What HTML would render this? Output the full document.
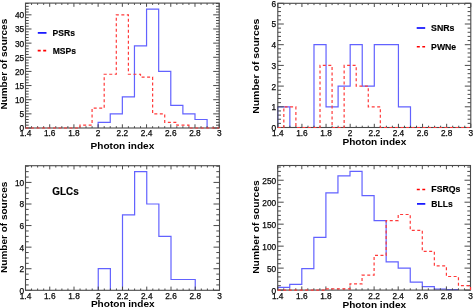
<!DOCTYPE html>
<html><head><meta charset="utf-8"><style>
html,body{margin:0;padding:0;background:#fff;width:473px;height:308px;overflow:hidden}
svg{display:block}
text{-webkit-font-smoothing:antialiased}
text{font-family:"Liberation Sans",sans-serif}
.l{font-size:8.3px;fill:#111;stroke:#000;stroke-width:0.25px}
.t{font-size:9.8px;font-weight:bold;fill:#000}
.g{font-weight:bold;fill:#000;stroke:#000;stroke-width:0.15px}
</style></head><body>
<svg width="473" height="308" viewBox="0 0 473 308" style="will-change:transform">
<rect width="473" height="308" fill="#fff"/>
<path d="M98.14 128 L98.14 122.34 L110.24 122.34 L110.24 113.86 L122.35 113.86 L122.35 96.88 L134.46 96.88 L134.46 45.96 L146.56 45.96 L146.56 9.18 L158.67 9.18 L158.67 71.42 L170.78 71.42 L170.78 105.37 L182.88 105.37 L182.88 113.86 L194.99 113.86 L194.99 119.51 L207.09 119.51 L207.09 128" stroke="#6262ff" stroke-width="1.2" fill="none"/>
<path d="M25.5 128v-3.7M25.5 3.1v3.7M31.55 128v-1.8M31.55 3.1v1.8M37.61 128v-1.8M37.61 3.1v1.8M43.66 128v-1.8M43.66 3.1v1.8M49.71 128v-3.7M49.71 3.1v3.7M55.77 128v-1.8M55.77 3.1v1.8M61.82 128v-1.8M61.82 3.1v1.8M67.87 128v-1.8M67.87 3.1v1.8M73.92 128v-3.7M73.92 3.1v3.7M79.98 128v-1.8M79.98 3.1v1.8M86.03 128v-1.8M86.03 3.1v1.8M92.08 128v-1.8M92.08 3.1v1.8M98.14 128v-3.7M98.14 3.1v3.7M104.19 128v-1.8M104.19 3.1v1.8M110.24 128v-1.8M110.24 3.1v1.8M116.3 128v-1.8M116.3 3.1v1.8M122.35 128v-3.7M122.35 3.1v3.7M128.4 128v-1.8M128.4 3.1v1.8M134.46 128v-1.8M134.46 3.1v1.8M140.51 128v-1.8M140.51 3.1v1.8M146.56 128v-3.7M146.56 3.1v3.7M152.62 128v-1.8M152.62 3.1v1.8M158.67 128v-1.8M158.67 3.1v1.8M164.72 128v-1.8M164.72 3.1v1.8M170.78 128v-3.7M170.78 3.1v3.7M176.83 128v-1.8M176.83 3.1v1.8M182.88 128v-1.8M182.88 3.1v1.8M188.93 128v-1.8M188.93 3.1v1.8M194.99 128v-3.7M194.99 3.1v3.7M201.04 128v-1.8M201.04 3.1v1.8M207.09 128v-1.8M207.09 3.1v1.8M213.15 128v-1.8M213.15 3.1v1.8M219.2 128v-3.7M219.2 3.1v3.7M25.5 128h6M219.2 128h-6M25.5 125.17h3.2M219.2 125.17h-3.2M25.5 122.34h3.2M219.2 122.34h-3.2M25.5 119.51h3.2M219.2 119.51h-3.2M25.5 116.68h3.2M219.2 116.68h-3.2M25.5 113.86h6M219.2 113.86h-6M25.5 111.03h3.2M219.2 111.03h-3.2M25.5 108.2h3.2M219.2 108.2h-3.2M25.5 105.37h3.2M219.2 105.37h-3.2M25.5 102.54h3.2M219.2 102.54h-3.2M25.5 99.71h6M219.2 99.71h-6M25.5 96.88h3.2M219.2 96.88h-3.2M25.5 94.05h3.2M219.2 94.05h-3.2M25.5 91.22h3.2M219.2 91.22h-3.2M25.5 88.39h3.2M219.2 88.39h-3.2M25.5 85.57h6M219.2 85.57h-6M25.5 82.74h3.2M219.2 82.74h-3.2M25.5 79.91h3.2M219.2 79.91h-3.2M25.5 77.08h3.2M219.2 77.08h-3.2M25.5 74.25h3.2M219.2 74.25h-3.2M25.5 71.42h6M219.2 71.42h-6M25.5 68.59h3.2M219.2 68.59h-3.2M25.5 65.76h3.2M219.2 65.76h-3.2M25.5 62.93h3.2M219.2 62.93h-3.2M25.5 60.1h3.2M219.2 60.1h-3.2M25.5 57.28h6M219.2 57.28h-6M25.5 54.45h3.2M219.2 54.45h-3.2M25.5 51.62h3.2M219.2 51.62h-3.2M25.5 48.79h3.2M219.2 48.79h-3.2M25.5 45.96h3.2M219.2 45.96h-3.2M25.5 43.13h6M219.2 43.13h-6M25.5 40.3h3.2M219.2 40.3h-3.2M25.5 37.47h3.2M219.2 37.47h-3.2M25.5 34.64h3.2M219.2 34.64h-3.2M25.5 31.81h3.2M219.2 31.81h-3.2M25.5 28.99h6M219.2 28.99h-6M25.5 26.16h3.2M219.2 26.16h-3.2M25.5 23.33h3.2M219.2 23.33h-3.2M25.5 20.5h3.2M219.2 20.5h-3.2M25.5 17.67h3.2M219.2 17.67h-3.2M25.5 14.84h6M219.2 14.84h-6M25.5 12.01h3.2M219.2 12.01h-3.2M25.5 9.18h3.2M219.2 9.18h-3.2M25.5 6.35h3.2M219.2 6.35h-3.2M25.5 3.52h3.2M219.2 3.52h-3.2" stroke="#4a4a4a" stroke-width="1.0" fill="none"/>
<rect x="25.5" y="3.1" width="193.7" height="124.9" fill="none" stroke="#4a4a4a" stroke-width="1.1"/>
<text x="25.5" y="136" class="l" text-anchor="middle">1.4</text>
<text x="49.71" y="136" class="l" text-anchor="middle">1.6</text>
<text x="73.92" y="136" class="l" text-anchor="middle">1.8</text>
<text x="98.14" y="136" class="l" text-anchor="middle">2</text>
<text x="122.35" y="136" class="l" text-anchor="middle">2.2</text>
<text x="146.56" y="136" class="l" text-anchor="middle">2.4</text>
<text x="170.78" y="136" class="l" text-anchor="middle">2.6</text>
<text x="194.99" y="136" class="l" text-anchor="middle">2.8</text>
<text x="219.2" y="136" class="l" text-anchor="middle">3</text>
<text x="24.2" y="131.4" class="l" text-anchor="end">0</text>
<text x="24.2" y="117.26" class="l" text-anchor="end">5</text>
<text x="24.2" y="103.11" class="l" text-anchor="end">10</text>
<text x="24.2" y="88.97" class="l" text-anchor="end">15</text>
<text x="24.2" y="74.82" class="l" text-anchor="end">20</text>
<text x="24.2" y="60.68" class="l" text-anchor="end">25</text>
<text x="24.2" y="46.53" class="l" text-anchor="end">30</text>
<text x="24.2" y="32.39" class="l" text-anchor="end">35</text>
<text x="24.2" y="18.24" class="l" text-anchor="end">40</text>
<path d="M25.5 128 L25.5 128 L31.55 128 L31.55 128 L43.66 128 L43.66 128 L55.77 128 L55.77 128 L67.87 128 L67.87 128 L79.98 128 L79.98 125.17 L92.08 125.17 L92.08 108.2 L104.19 108.2 L104.19 74.25 L116.3 74.25 L116.3 14.84 L128.4 14.84 L128.4 74.25 L140.51 74.25 L140.51 77.08 L152.62 77.08 L152.62 113.86 L164.72 113.86 L164.72 122.34 L176.83 122.34 L176.83 125.17 L188.93 125.17 L188.93 128 L201.04 128 L201.04 128 L213.15 128 L213.15 128 L219.2 128 L219.2 128" stroke="#ff3a3a" stroke-width="1.2" fill="none" stroke-dasharray="3 2.5"/>
<path d="M37.8 32.9H46.5" stroke="#0000ff" stroke-width="1.6" fill="none"/>
<path d="M37.7 50.6H46.2" stroke="#ff0000" stroke-width="1.6" fill="none" stroke-dasharray="3 2.5"/>
<text class="g" x="52.6" y="35.5" textLength="22.3" lengthAdjust="spacingAndGlyphs" style="font-size:9.2px">PSRs</text>
<text class="g" x="52.7" y="53.7" textLength="23.3" lengthAdjust="spacingAndGlyphs" style="font-size:9.2px">MSPs</text>
<text class="t" transform="translate(6.8 64.15) rotate(-90)" text-anchor="middle" textLength="90.7" lengthAdjust="spacingAndGlyphs">Number of sources</text>
<text class="t" x="90.6" y="148.6" textLength="63.7" lengthAdjust="spacingAndGlyphs">Photon index</text>
<path d="M277.8 127.5 L277.8 106.8 L289.86 106.8 L289.86 127.5 M301.93 127.5 M301.93 127.5 M313.99 127.5 L313.99 44.7 L326.05 44.7 L326.05 106.8 L338.11 106.8 L338.11 86.1 L350.18 86.1 L350.18 44.7 L362.24 44.7 L362.24 86.1 L374.3 86.1 L374.3 44.7 L386.36 44.7 L386.36 44.7 L398.43 44.7 L398.43 106.8 L410.49 106.8 L410.49 127.5" stroke="#6262ff" stroke-width="1.2" fill="none"/>
<path d="M277.8 127.5v-3.7M277.8 3.3v3.7M283.83 127.5v-1.8M283.83 3.3v1.8M289.86 127.5v-1.8M289.86 3.3v1.8M295.89 127.5v-1.8M295.89 3.3v1.8M301.93 127.5v-3.7M301.93 3.3v3.7M307.96 127.5v-1.8M307.96 3.3v1.8M313.99 127.5v-1.8M313.99 3.3v1.8M320.02 127.5v-1.8M320.02 3.3v1.8M326.05 127.5v-3.7M326.05 3.3v3.7M332.08 127.5v-1.8M332.08 3.3v1.8M338.11 127.5v-1.8M338.11 3.3v1.8M344.14 127.5v-1.8M344.14 3.3v1.8M350.18 127.5v-3.7M350.18 3.3v3.7M356.21 127.5v-1.8M356.21 3.3v1.8M362.24 127.5v-1.8M362.24 3.3v1.8M368.27 127.5v-1.8M368.27 3.3v1.8M374.3 127.5v-3.7M374.3 3.3v3.7M380.33 127.5v-1.8M380.33 3.3v1.8M386.36 127.5v-1.8M386.36 3.3v1.8M392.39 127.5v-1.8M392.39 3.3v1.8M398.43 127.5v-3.7M398.43 3.3v3.7M404.46 127.5v-1.8M404.46 3.3v1.8M410.49 127.5v-1.8M410.49 3.3v1.8M416.52 127.5v-1.8M416.52 3.3v1.8M422.55 127.5v-3.7M422.55 3.3v3.7M428.58 127.5v-1.8M428.58 3.3v1.8M434.61 127.5v-1.8M434.61 3.3v1.8M440.64 127.5v-1.8M440.64 3.3v1.8M446.67 127.5v-3.7M446.67 3.3v3.7M452.71 127.5v-1.8M452.71 3.3v1.8M458.74 127.5v-1.8M458.74 3.3v1.8M464.77 127.5v-1.8M464.77 3.3v1.8M470.8 127.5v-3.7M470.8 3.3v3.7M277.8 127.5h6M470.8 127.5h-6M277.8 123.36h3.2M470.8 123.36h-3.2M277.8 119.22h3.2M470.8 119.22h-3.2M277.8 115.08h3.2M470.8 115.08h-3.2M277.8 110.94h3.2M470.8 110.94h-3.2M277.8 106.8h6M470.8 106.8h-6M277.8 102.66h3.2M470.8 102.66h-3.2M277.8 98.52h3.2M470.8 98.52h-3.2M277.8 94.38h3.2M470.8 94.38h-3.2M277.8 90.24h3.2M470.8 90.24h-3.2M277.8 86.1h6M470.8 86.1h-6M277.8 81.96h3.2M470.8 81.96h-3.2M277.8 77.82h3.2M470.8 77.82h-3.2M277.8 73.68h3.2M470.8 73.68h-3.2M277.8 69.54h3.2M470.8 69.54h-3.2M277.8 65.4h6M470.8 65.4h-6M277.8 61.26h3.2M470.8 61.26h-3.2M277.8 57.12h3.2M470.8 57.12h-3.2M277.8 52.98h3.2M470.8 52.98h-3.2M277.8 48.84h3.2M470.8 48.84h-3.2M277.8 44.7h6M470.8 44.7h-6M277.8 40.56h3.2M470.8 40.56h-3.2M277.8 36.42h3.2M470.8 36.42h-3.2M277.8 32.28h3.2M470.8 32.28h-3.2M277.8 28.14h3.2M470.8 28.14h-3.2M277.8 24h6M470.8 24h-6M277.8 19.86h3.2M470.8 19.86h-3.2M277.8 15.72h3.2M470.8 15.72h-3.2M277.8 11.58h3.2M470.8 11.58h-3.2M277.8 7.44h3.2M470.8 7.44h-3.2M277.8 3.3h6M470.8 3.3h-6" stroke="#4a4a4a" stroke-width="1.0" fill="none"/>
<rect x="277.8" y="3.3" width="193" height="124.2" fill="none" stroke="#4a4a4a" stroke-width="1.1"/>
<text x="277.8" y="136" class="l" text-anchor="middle">1.4</text>
<text x="301.93" y="136" class="l" text-anchor="middle">1.6</text>
<text x="326.05" y="136" class="l" text-anchor="middle">1.8</text>
<text x="350.18" y="136" class="l" text-anchor="middle">2</text>
<text x="374.3" y="136" class="l" text-anchor="middle">2.2</text>
<text x="398.43" y="136" class="l" text-anchor="middle">2.4</text>
<text x="422.55" y="136" class="l" text-anchor="middle">2.6</text>
<text x="446.67" y="136" class="l" text-anchor="middle">2.8</text>
<text x="470.8" y="136" class="l" text-anchor="middle">3</text>
<text x="276.2" y="130.9" class="l" text-anchor="end">0</text>
<text x="276.2" y="110.2" class="l" text-anchor="end">1</text>
<text x="276.2" y="89.5" class="l" text-anchor="end">2</text>
<text x="276.2" y="68.8" class="l" text-anchor="end">3</text>
<text x="276.2" y="48.1" class="l" text-anchor="end">4</text>
<text x="276.2" y="27.4" class="l" text-anchor="end">5</text>
<text x="276.2" y="6.7" class="l" text-anchor="end">6</text>
<path d="M277.8 127.5 L277.8 127.5 L283.83 127.5 L283.83 106.8 L295.89 106.8 L295.89 127.5 L307.96 127.5 L307.96 127.5 L320.02 127.5 L320.02 65.4 L332.08 65.4 L332.08 127.5 L344.14 127.5 L344.14 65.4 L356.21 65.4 L356.21 86.1 L368.27 86.1 L368.27 106.8 L380.33 106.8 L380.33 127.5 L392.39 127.5 L392.39 127.5 L404.46 127.5 L404.46 127.5 L416.52 127.5 L416.52 127.5 L428.58 127.5 L428.58 127.5 L440.64 127.5 L440.64 127.5 L452.71 127.5 L452.71 127.5 L464.77 127.5 L464.77 127.5 L470.8 127.5 L470.8 127.5" stroke="#ff3a3a" stroke-width="1.2" fill="none" stroke-dasharray="3 2.5"/>
<path d="M416.7 28H425.2" stroke="#0000ff" stroke-width="1.6" fill="none"/>
<path d="M416.8 46.8H425.1" stroke="#ff0000" stroke-width="1.6" fill="none" stroke-dasharray="3 2.5"/>
<text class="g" x="431.1" y="31" textLength="23.4" lengthAdjust="spacingAndGlyphs" style="font-size:9.2px">SNRs</text>
<text class="g" x="431.1" y="50" textLength="25.1" lengthAdjust="spacingAndGlyphs" style="font-size:9.2px">PWNe</text>
<text class="t" transform="translate(259.4 66.25) rotate(-90)" text-anchor="middle" textLength="95.1" lengthAdjust="spacingAndGlyphs">Number of sources</text>
<text class="t" x="342.5" y="145" textLength="63.8" lengthAdjust="spacingAndGlyphs">Photon index</text>
<path d="M98.25 290.3 L98.25 268.72 L110.38 268.72 L110.38 290.3 M122.5 290.3 L122.5 214.78 L134.63 214.78 L134.62 171.63 L146.75 171.63 L146.75 204 L158.88 204 L158.88 236.36 L171 236.36 L171 279.51 L183.13 279.51 L183.13 279.51 L195.25 279.51 L195.25 290.3" stroke="#6262ff" stroke-width="1.2" fill="none"/>
<path d="M25.5 290.3v-3.7M25.5 165.7v3.7M31.56 290.3v-1.8M31.56 165.7v1.8M37.63 290.3v-1.8M37.63 165.7v1.8M43.69 290.3v-1.8M43.69 165.7v1.8M49.75 290.3v-3.7M49.75 165.7v3.7M55.81 290.3v-1.8M55.81 165.7v1.8M61.88 290.3v-1.8M61.88 165.7v1.8M67.94 290.3v-1.8M67.94 165.7v1.8M74 290.3v-3.7M74 165.7v3.7M80.06 290.3v-1.8M80.06 165.7v1.8M86.12 290.3v-1.8M86.12 165.7v1.8M92.19 290.3v-1.8M92.19 165.7v1.8M98.25 290.3v-3.7M98.25 165.7v3.7M104.31 290.3v-1.8M104.31 165.7v1.8M110.38 290.3v-1.8M110.38 165.7v1.8M116.44 290.3v-1.8M116.44 165.7v1.8M122.5 290.3v-3.7M122.5 165.7v3.7M128.56 290.3v-1.8M128.56 165.7v1.8M134.62 290.3v-1.8M134.62 165.7v1.8M140.69 290.3v-1.8M140.69 165.7v1.8M146.75 290.3v-3.7M146.75 165.7v3.7M152.81 290.3v-1.8M152.81 165.7v1.8M158.88 290.3v-1.8M158.88 165.7v1.8M164.94 290.3v-1.8M164.94 165.7v1.8M171 290.3v-3.7M171 165.7v3.7M177.06 290.3v-1.8M177.06 165.7v1.8M183.13 290.3v-1.8M183.13 165.7v1.8M189.19 290.3v-1.8M189.19 165.7v1.8M195.25 290.3v-3.7M195.25 165.7v3.7M201.31 290.3v-1.8M201.31 165.7v1.8M207.38 290.3v-1.8M207.38 165.7v1.8M213.44 290.3v-1.8M213.44 165.7v1.8M219.5 290.3v-3.7M219.5 165.7v3.7M25.5 290.3h6M219.5 290.3h-6M25.5 284.91h3.2M219.5 284.91h-3.2M25.5 279.51h3.2M219.5 279.51h-3.2M25.5 274.12h3.2M219.5 274.12h-3.2M25.5 268.72h6M219.5 268.72h-6M25.5 263.33h3.2M219.5 263.33h-3.2M25.5 257.94h3.2M219.5 257.94h-3.2M25.5 252.54h3.2M219.5 252.54h-3.2M25.5 247.15h6M219.5 247.15h-6M25.5 241.75h3.2M219.5 241.75h-3.2M25.5 236.36h3.2M219.5 236.36h-3.2M25.5 230.97h3.2M219.5 230.97h-3.2M25.5 225.57h6M219.5 225.57h-6M25.5 220.18h3.2M219.5 220.18h-3.2M25.5 214.78h3.2M219.5 214.78h-3.2M25.5 209.39h3.2M219.5 209.39h-3.2M25.5 204h6M219.5 204h-6M25.5 198.6h3.2M219.5 198.6h-3.2M25.5 193.21h3.2M219.5 193.21h-3.2M25.5 187.82h3.2M219.5 187.82h-3.2M25.5 182.42h6M219.5 182.42h-6M25.5 177.03h3.2M219.5 177.03h-3.2M25.5 171.63h3.2M219.5 171.63h-3.2M25.5 166.24h3.2M219.5 166.24h-3.2" stroke="#4a4a4a" stroke-width="1.0" fill="none"/>
<rect x="25.5" y="165.7" width="194" height="124.6" fill="none" stroke="#4a4a4a" stroke-width="1.1"/>
<text x="25.5" y="298.6" class="l" text-anchor="middle">1.4</text>
<text x="49.75" y="298.6" class="l" text-anchor="middle">1.6</text>
<text x="74" y="298.6" class="l" text-anchor="middle">1.8</text>
<text x="98.25" y="298.6" class="l" text-anchor="middle">2</text>
<text x="122.5" y="298.6" class="l" text-anchor="middle">2.2</text>
<text x="146.75" y="298.6" class="l" text-anchor="middle">2.4</text>
<text x="171" y="298.6" class="l" text-anchor="middle">2.6</text>
<text x="195.25" y="298.6" class="l" text-anchor="middle">2.8</text>
<text x="219.5" y="298.6" class="l" text-anchor="middle">3</text>
<text x="24.2" y="293.7" class="l" text-anchor="end">0</text>
<text x="24.2" y="272.12" class="l" text-anchor="end">2</text>
<text x="24.2" y="250.55" class="l" text-anchor="end">4</text>
<text x="24.2" y="228.97" class="l" text-anchor="end">6</text>
<text x="24.2" y="207.4" class="l" text-anchor="end">8</text>
<text x="24.2" y="185.82" class="l" text-anchor="end">10</text>
<text class="g" x="52.3" y="194.9" textLength="26.4" lengthAdjust="spacingAndGlyphs" style="font-size:10px">GLCs</text>
<text class="t" transform="translate(7.4 227.3) rotate(-90)" text-anchor="middle" textLength="91.2" lengthAdjust="spacingAndGlyphs">Number of sources</text>
<text class="t" x="90.9" y="307" textLength="63.7" lengthAdjust="spacingAndGlyphs">Photon index</text>
<path d="M277.7 290.1 L277.7 287.46 L289.75 287.46 L289.75 284.39 L301.8 284.39 L301.8 268.56 L313.85 268.56 L313.85 237.36 L325.9 237.36 L325.9 192.97 L337.95 192.97 L337.95 175.83 L350 175.83 L350 171.43 L362.05 171.43 L362.05 195.61 L374.1 195.61 L374.1 220.66 L386.15 220.66 L386.15 261.97 L398.2 261.97 L398.2 268.12 L410.25 268.12 L410.25 282.19 L422.3 282.19 L422.3 286.58 L434.35 286.58 L434.35 289.22 L446.4 289.22 L446.4 289.66 L458.45 289.66 L458.45 290.1" stroke="#6262ff" stroke-width="1.2" fill="none"/>
<path d="M277.7 290.1v-3.7M277.7 165.5v3.7M283.73 290.1v-1.8M283.73 165.5v1.8M289.75 290.1v-1.8M289.75 165.5v1.8M295.77 290.1v-1.8M295.77 165.5v1.8M301.8 290.1v-3.7M301.8 165.5v3.7M307.82 290.1v-1.8M307.82 165.5v1.8M313.85 290.1v-1.8M313.85 165.5v1.8M319.88 290.1v-1.8M319.88 165.5v1.8M325.9 290.1v-3.7M325.9 165.5v3.7M331.92 290.1v-1.8M331.92 165.5v1.8M337.95 290.1v-1.8M337.95 165.5v1.8M343.98 290.1v-1.8M343.98 165.5v1.8M350 290.1v-3.7M350 165.5v3.7M356.02 290.1v-1.8M356.02 165.5v1.8M362.05 290.1v-1.8M362.05 165.5v1.8M368.07 290.1v-1.8M368.07 165.5v1.8M374.1 290.1v-3.7M374.1 165.5v3.7M380.12 290.1v-1.8M380.12 165.5v1.8M386.15 290.1v-1.8M386.15 165.5v1.8M392.18 290.1v-1.8M392.18 165.5v1.8M398.2 290.1v-3.7M398.2 165.5v3.7M404.23 290.1v-1.8M404.23 165.5v1.8M410.25 290.1v-1.8M410.25 165.5v1.8M416.27 290.1v-1.8M416.27 165.5v1.8M422.3 290.1v-3.7M422.3 165.5v3.7M428.32 290.1v-1.8M428.32 165.5v1.8M434.35 290.1v-1.8M434.35 165.5v1.8M440.38 290.1v-1.8M440.38 165.5v1.8M446.4 290.1v-3.7M446.4 165.5v3.7M452.43 290.1v-1.8M452.43 165.5v1.8M458.45 290.1v-1.8M458.45 165.5v1.8M464.48 290.1v-1.8M464.48 165.5v1.8M470.5 290.1v-3.7M470.5 165.5v3.7M277.7 290.1h6M470.5 290.1h-6M277.7 285.7h3.2M470.5 285.7h-3.2M277.7 281.31h3.2M470.5 281.31h-3.2M277.7 276.91h3.2M470.5 276.91h-3.2M277.7 272.52h3.2M470.5 272.52h-3.2M277.7 268.12h6M470.5 268.12h-6M277.7 263.73h3.2M470.5 263.73h-3.2M277.7 259.33h3.2M470.5 259.33h-3.2M277.7 254.94h3.2M470.5 254.94h-3.2M277.7 250.54h3.2M470.5 250.54h-3.2M277.7 246.15h6M470.5 246.15h-6M277.7 241.75h3.2M470.5 241.75h-3.2M277.7 237.36h3.2M470.5 237.36h-3.2M277.7 232.96h3.2M470.5 232.96h-3.2M277.7 228.57h3.2M470.5 228.57h-3.2M277.7 224.17h6M470.5 224.17h-6M277.7 219.78h3.2M470.5 219.78h-3.2M277.7 215.38h3.2M470.5 215.38h-3.2M277.7 210.99h3.2M470.5 210.99h-3.2M277.7 206.59h3.2M470.5 206.59h-3.2M277.7 202.2h6M470.5 202.2h-6M277.7 197.8h3.2M470.5 197.8h-3.2M277.7 193.41h3.2M470.5 193.41h-3.2M277.7 189.01h3.2M470.5 189.01h-3.2M277.7 184.62h3.2M470.5 184.62h-3.2M277.7 180.22h6M470.5 180.22h-6M277.7 175.83h3.2M470.5 175.83h-3.2M277.7 171.43h3.2M470.5 171.43h-3.2M277.7 167.04h3.2M470.5 167.04h-3.2" stroke="#4a4a4a" stroke-width="1.0" fill="none"/>
<rect x="277.7" y="165.5" width="192.8" height="124.6" fill="none" stroke="#4a4a4a" stroke-width="1.1"/>
<text x="277.7" y="298.6" class="l" text-anchor="middle">1.4</text>
<text x="301.8" y="298.6" class="l" text-anchor="middle">1.6</text>
<text x="325.9" y="298.6" class="l" text-anchor="middle">1.8</text>
<text x="350" y="298.6" class="l" text-anchor="middle">2</text>
<text x="374.1" y="298.6" class="l" text-anchor="middle">2.2</text>
<text x="398.2" y="298.6" class="l" text-anchor="middle">2.4</text>
<text x="422.3" y="298.6" class="l" text-anchor="middle">2.6</text>
<text x="446.4" y="298.6" class="l" text-anchor="middle">2.8</text>
<text x="470.5" y="298.6" class="l" text-anchor="middle">3</text>
<text x="276.2" y="293.5" class="l" text-anchor="end">0</text>
<text x="276.2" y="271.52" class="l" text-anchor="end">50</text>
<text x="276.2" y="249.55" class="l" text-anchor="end">100</text>
<text x="276.2" y="227.57" class="l" text-anchor="end">150</text>
<text x="276.2" y="205.6" class="l" text-anchor="end">200</text>
<text x="276.2" y="183.62" class="l" text-anchor="end">250</text>
<path d="M277.7 290.1 L277.7 290.1 L289.75 290.1 L289.75 290.1 L301.8 290.1 L301.8 290.1 L313.85 290.1 L313.85 290.1 L325.9 290.1 L325.9 288.78 L337.95 288.78 L337.95 288.78 L350 288.78 L350 283.95 L362.05 283.95 L362.05 275.16 L374.1 275.16 L374.1 255.38 L386.15 255.38 L386.15 220.66 L398.2 220.66 L398.2 214.5 L410.25 214.5 L410.25 230.33 L422.3 230.33 L422.3 251.42 L434.35 251.42 L434.35 265.93 L446.4 265.93 L446.4 276.48 L458.45 276.48 L458.45 285.7 L470.5 285.7 L470.5 290.1" stroke="#ff3a3a" stroke-width="1.2" fill="none" stroke-dasharray="3 2.5"/>
<path d="M416.8 189.5H425.2" stroke="#ff0000" stroke-width="1.6" fill="none" stroke-dasharray="3 2.5"/>
<path d="M417 203.9H425.3" stroke="#0000ff" stroke-width="1.6" fill="none"/>
<text class="g" x="431.3" y="192.1" textLength="29.1" lengthAdjust="spacingAndGlyphs" style="font-size:9.2px">FSRQs</text>
<text class="g" x="431.3" y="206.7" textLength="21.4" lengthAdjust="spacingAndGlyphs" style="font-size:9.2px">BLLs</text>
<text class="t" transform="translate(258.9 227.05) rotate(-90)" text-anchor="middle" textLength="93.5" lengthAdjust="spacingAndGlyphs">Number of sources</text>
<text class="t" x="342.5" y="307.5" textLength="63.6" lengthAdjust="spacingAndGlyphs">Photon index</text>
</svg>
</body></html>
